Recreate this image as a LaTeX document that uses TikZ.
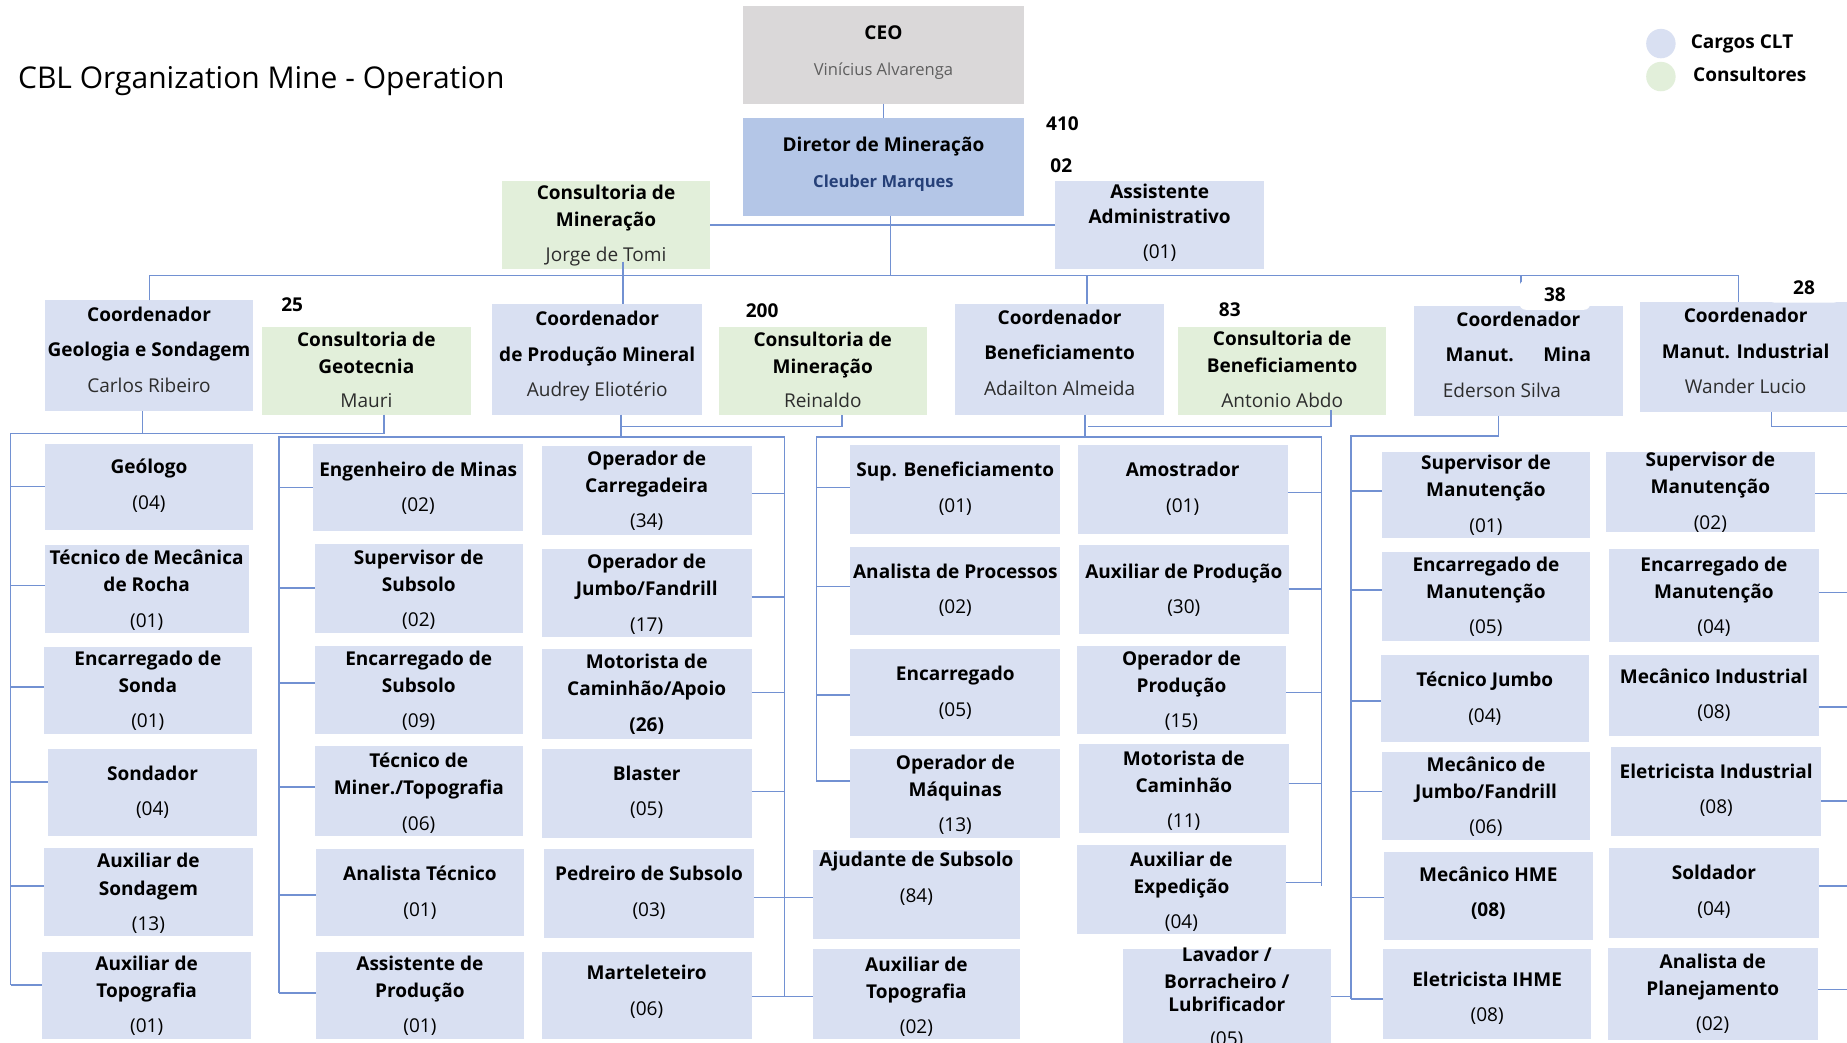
\documentclass[tikz,border=0pt]{standalone}
\usepackage{fontspec}
\setmainfont{Open Sans}
\usetikzlibrary{calc}

\definecolor{cltblue}{RGB}{217,224,242}
\definecolor{consgreen}{RGB}{226,239,218}
\definecolor{ceogray}{RGB}{218,216,217}
\definecolor{dirblue}{RGB}{180,198,231}
\definecolor{linkblue}{RGB}{114,145,210}
\definecolor{subgray}{RGB}{95,95,95}
\definecolor{namegray}{RGB}{45,45,45}
\definecolor{dirname}{RGB}{38,64,120}

\newcommand\bt[1]{\textbf{#1}}
\newcommand\nm[1]{{\color{namegray}#1}}
% \orgbox{style}{name}{x1}{y1}{x2}{y2}{text offset}{text}
\newcommand\orgbox[8]{%
  \node[#1, minimum width={(#5-(#3))*0.02cm}, minimum height={(#6-(#4))*0.02cm}]
    (#2) at ({(#3+#5)/2},{(#4+#6)/2}) {};
  \node[txt] (#2t) at ([yshift={-(#7+2)*0.02cm}]#2.center) {#8};
}

\begin{document}
\begin{tikzpicture}[x=0.02cm,y=-0.02cm,
  base/.style={draw=none,inner sep=0pt,outer sep=0pt,rectangle},
  clt/.style={base,fill=cltblue},
  cons/.style={base,fill=consgreen},
  ceobox/.style={base,fill=ceogray},
  dirbox/.style={base,fill=dirblue},
  txt/.style={align=center,inner sep=0pt,font=\fontsize{9.2}{13.1}\selectfont,text=black},
  conn/.style={draw=linkblue,line width=0.75pt},
  num/.style={font=\fontsize{9.2}{11}\selectfont\bfseries,inner sep=1pt},
  tag/.style={num,fill=white,rounded corners=3pt,minimum width=1.2cm,minimum height=0.5cm},
]
\useasboundingbox (0,0) rectangle (1568,885);
\clip (0,0) rectangle (1568,885);
\fill[white] (0,0) rectangle (1568,885);

% title and legend
\node[anchor=west,inner sep=0pt,font=\fontsize{14.5}{17}\selectfont] (title) at (15,68.5) {CBL Organization Mine - Operation};
\node[circle,fill=cltblue,minimum size=0.5cm,inner sep=0pt] (legclt) at (1410,37) {};
\node[circle,fill=consgreen,minimum size=0.5cm,inner sep=0pt] (legcons) at (1410,65) {};
\node[txt,anchor=west] (legcltt) at (1435,37) {\bt{Cargos CLT}};
\node[txt,anchor=west] (legconst) at (1437,63) {\bt{Consultores}};

% top of the hierarchy
\orgbox{ceobox}{ceo}{631}{5}{869}{88}{-4}{\bt{CEO}\\[4pt]{\fontsize{8}{13.1}\selectfont\color{subgray}Vinícius Alvarenga}}
\orgbox{dirbox}{dir}{631}{100}{869}{183}{-4}{\bt{Diretor de Mineração}\\[4pt]{\fontsize{8}{13.1}\selectfont\bfseries\color{dirname}Cleuber Marques}}
\orgbox{cons}{jorge}{426}{154}{603}{228}{-1.5}{\bt{Consultoria de}\\\bt{Mineração}\\[4pt]\nm{Jorge de Tomi}}
\orgbox{clt}{asst}{896}{154}{1073}{228}{-4}{\bt{Assistente}\\[-1pt]\bt{Administrativo}\\[4pt](01)}

% coordinators and consultants
\orgbox{clt}{geoc}{38}{255}{215}{349}{-7}{\bt{Coordenador}\\[4pt]\bt{Geologia e Sondagem}\\[4pt]\nm{Carlos Ribeiro}}
\orgbox{cons}{geot}{222}{278}{400}{352}{-3}{\bt{Consultoria de}\\\bt{Geotecnia}\\[3pt]\nm{Mauri}}
\orgbox{clt}{prodc}{418}{258}{596}{352}{-4.5}{\bt{Coordenador}\\[4pt]\bt{de Produção Mineral}\\[4pt]\nm{Audrey Eliotério}}
\orgbox{cons}{rein}{610}{278}{787}{352}{-3}{\bt{Consultoria de}\\\bt{Mineração}\\[3pt]\nm{Reinaldo}}
\orgbox{clt}{benc}{811}{258}{988}{352}{-7.5}{\bt{Coordenador}\\[4pt]\bt{Beneficiamento}\\[4pt]\nm{Adailton Almeida}}
\orgbox{cons}{anto}{1000}{278}{1177}{352}{-3.5}{\bt{Consultoria de}\\\bt{Beneficiamento}\\[4pt]\nm{Antonio Abdo}}
\orgbox{clt}{minc}{1200}{260}{1378}{353}{-7.5}{\bt{Coordenador}\\[4pt]\bt{Manut.\hspace{0.5cm}Mina}\\[4pt]\nm{Ederson Silva}\rule{0.56cm}{0pt}}
\orgbox{clt}{indc}{1392}{256}{1572}{350}{-7}{\bt{Coordenador}\\[4pt]\bt{Manut. Industrial}\\[4pt]\nm{Wander Lucio}}

% geology and drilling
\orgbox{clt}{geo1}{38}{377}{215}{450}{-3}{\bt{Geólogo}\\[4pt](04)}
\orgbox{clt}{geo2}{38}{463}{211}{537}{-1}{\bt{Técnico de Mecânica}\\\bt{de Rocha}\\[4pt](01)}
\orgbox{clt}{geo3}{37}{549}{214}{623}{-1.5}{\bt{Encarregado de}\\\bt{Sonda}\\[4pt](01)}
\orgbox{clt}{geo4}{41}{636}{218}{710}{-2.5}{\bt{Sondador}\\[4pt](04)}
\orgbox{clt}{geo5}{37}{720}{215}{795}{-1}{\bt{Auxiliar de}\\\bt{Sondagem}\\[4pt](13)}
\orgbox{clt}{geo6}{36}{808}{213}{882}{-1.5}{\bt{Auxiliar de}\\\bt{Topografia}\\[4pt](01)}

% mineral production
\orgbox{clt}{p1}{266}{377}{444}{451}{-1.5}{\bt{Engenheiro de Minas}\\[4pt](02)}
\orgbox{clt}{p2}{267}{462}{444}{537}{-1}{\bt{Supervisor de}\\\bt{Subsolo}\\[4pt](02)}
\orgbox{clt}{p3}{267}{548}{444}{623}{-1}{\bt{Encarregado de}\\\bt{Subsolo}\\[4pt](09)}
\orgbox{clt}{p4}{267}{633}{444}{710}{0}{\bt{Técnico de}\\\bt{Miner./Topografia}\\[4pt](06)}
\orgbox{clt}{p5}{268}{721}{445}{795}{-2}{\bt{Analista Técnico}\\[4pt](01)}
\orgbox{clt}{p6}{268}{808}{445}{882}{-1.5}{\bt{Assistente de}\\\bt{Produção}\\[4pt](01)}
\orgbox{clt}{q1}{460}{379}{638}{454}{-2}{\bt{Operador de}\\\bt{Carregadeira}\\[4pt](34)}
\orgbox{clt}{q2}{460}{466}{638}{541}{-1}{\bt{Operador de}\\\bt{Jumbo/Fandrill}\\[4pt](17)}
\orgbox{clt}{q3}{460}{551}{638}{627}{-1.5}{\bt{Motorista de}\\\bt{Caminhão/Apoio}\\[4pt]\bt{(26)}}
\orgbox{clt}{q4}{460}{636}{638}{711}{-3}{\bt{Blaster}\\[4pt](05)}
\orgbox{clt}{q5}{462}{721}{640}{796}{-2.5}{\bt{Pedreiro de Subsolo}\\[4pt](03)}
\orgbox{clt}{q6}{460}{808}{638}{882}{-5}{\bt{Marteleteiro}\\[4pt](06)}

% processing plant
\orgbox{clt}{b1}{722}{378}{900}{453}{-2.5}{\bt{Sup. Beneficiamento}\\[4pt](01)}
\orgbox{clt}{b2}{722}{464}{900}{539}{-2.5}{\bt{Analista de Processos}\\[4pt](02)}
\orgbox{clt}{b3}{722}{551}{900}{625}{-2}{\bt{Encarregado}\\[4pt](05)}
\orgbox{clt}{b4}{722}{636}{900}{711}{-1}{\bt{Operador de}\\\bt{Máquinas}\\[4pt](13)}
\orgbox{clt}{b5}{690}{722}{866}{797}{-15.5}{\bt{Ajudante de Subsolo}\\[4pt](84)}
\orgbox{clt}{b6}{690}{806}{866}{882}{0}{\bt{Auxiliar de}\\\bt{Topografia}\\[4pt](02)}
\orgbox{clt}{c1}{915}{378}{1093}{453}{-2.5}{\bt{Amostrador}\\[4pt](01)}
\orgbox{clt}{c2}{916}{463}{1094}{538}{-1.5}{\bt{Auxiliar de Produção}\\[4pt](30)}
\orgbox{clt}{c3}{914}{548}{1092}{623}{-1}{\bt{Operador de}\\\bt{Produção}\\[4pt](15)}
\orgbox{clt}{c4}{916}{632}{1094}{707}{0}{\bt{Motorista de}\\\bt{Caminhão}\\[4pt](11)}
\orgbox{clt}{c5}{914}{717}{1092}{793}{0}{\bt{Auxiliar de}\\\bt{Expedição}\\[4pt](04)}
\orgbox{clt}{c6}{953}{806}{1130}{895}{-5.5}{\bt{Lavador /}\\\bt{Borracheiro /}\\[-2pt]\bt{Lubrificador}\\[3pt](05)}

% mine maintenance
\orgbox{clt}{m1}{1173}{384}{1350}{457}{-2}{\bt{Supervisor de}\\\bt{Manutenção}\\[4pt](01)}
\orgbox{clt}{m2}{1173}{469}{1350}{544}{-2}{\bt{Encarregado de}\\\bt{Manutenção}\\[4pt](05)}
\orgbox{clt}{m3}{1172}{556}{1349}{630}{-2}{\bt{Técnico Jumbo}\\[4pt](04)}
\orgbox{clt}{m4}{1173}{638}{1350}{713}{-1}{\bt{Mecânico de}\\\bt{Jumbo/Fandrill}\\[4pt](06)}
\orgbox{clt}{m5}{1175}{723}{1352}{798}{-4}{\bt{Mecânico HME}\\[4pt]\bt{(08)}}
\orgbox{clt}{m6}{1174}{806}{1351}{882}{1.5}{\bt{Eletricista IHME}\\[4pt](08)}

% industrial maintenance
\orgbox{clt}{n1}{1363}{384}{1541}{452}{-2}{\bt{Supervisor de}\\\bt{Manutenção}\\[4pt](02)}
\orgbox{clt}{n2}{1366}{466}{1544}{545}{-1}{\bt{Encarregado de}\\\bt{Manutenção}\\[4pt](04)}
\orgbox{clt}{n3}{1366}{556}{1544}{625}{-2.5}{\bt{Mecânico Industrial}\\[4pt](08)}
\orgbox{clt}{n4}{1368}{634}{1546}{710}{-3}{\bt{Eletricista Industrial}\\[4pt](08)}
\orgbox{clt}{n5}{1366}{720}{1544}{796}{-3}{\bt{Soldador}\\[4pt](04)}
\orgbox{clt}{n6}{1365}{805}{1543}{883}{-2.5}{\bt{Analista de}\\\bt{Planejamento}\\[4pt](02)}

% ---- connectors ----
\draw[conn] (ceo.south) -- (dir.north);
\coordinate (busL) at (127,234);
\coordinate (busR) at (1476,234);
\coordinate (dirdrop) at (756,234);
\draw[conn] (dir.south -| dirdrop) -- (dirdrop);
\draw[conn] (jorge.east) -- (asst.west);
\draw[conn] (geoc.north -| busL) -- (busL) -- (busR) -- (indc.north -| busR);
\coordinate (proddrop) at (529,234);
\draw[conn] ($(jorge.south -| proddrop)+(0,-6)$) -- (prodc.north -| proddrop);
\coordinate (bendrop) at (923,234);
\draw[conn] (bendrop) -- (benc.north -| bendrop);
\coordinate (minadrop) at (1291,234);
\draw[conn] (minadrop) -- (minc.north -| minadrop);

% geology branch
\coordinate (gsp) at (9,368);
\coordinate (gdrop) at (121,368);
\coordinate (gtdrop) at (326,368);
\draw[conn] (geoc.south -| gdrop) -- (gdrop);
\draw[conn] (geot.south -| gtdrop) -- (gtdrop) -- (gsp) -- (gsp |- 0,836);
\foreach \n/\y in {geo1/413,geo2/497,geo3/583,geo4/664,geo5/752,geo6/836}
  \draw[conn] (gsp |- 0,\y) -- (\n.west |- 0,\y);

% production branch
\coordinate (pdrop) at (527,371);
\coordinate (pmid) at (527,362);
\coordinate (rdrop) at (715,362);
\draw[conn] (prodc.south -| pdrop) -- (pdrop);
\draw[conn] (pmid) -- (rdrop) -- (rein.south -| rdrop);
\coordinate (pspL) at (237,371);
\coordinate (pspR) at (666,371);
\draw[conn] (pspL |- 0,843) -- (pspL) -- (pspR) -- (pspR |- 0,846);
\foreach \n/\y in {p1/414,p2/499,p3/580,p4/668,p5/760,p6/843}
  \draw[conn] (pspL |- 0,\y) -- (\n.west |- 0,\y);
\foreach \n/\y in {q1/419,q2/507,q3/588,q4/672}
  \draw[conn] (\n.east |- 0,\y) -- (pspR |- 0,\y);
\draw[conn] (q5.east |- 0,762) -- (b5.west |- 0,762);
\draw[conn] (q6.east |- 0,846) -- (b6.west |- 0,846);

% processing branch
\coordinate (bdrop) at (921,371);
\coordinate (bmid) at (924,362);
\coordinate (adrop) at (1130,362);
\draw[conn] (benc.south -| bdrop) -- (bdrop);
\draw[conn] (bmid) -- (adrop) -- ($(anto.south -| adrop)+(0,-4)$);
\coordinate (bspL) at (693,371);
\coordinate (bspR) at (1122,371);
\draw[conn] (bspL |- 0,663) -- (bspL) -- (bspR) -- (bspR |- 0,752);
\foreach \n/\y in {b1/414,b2/498,b3/590,b4/663}
  \draw[conn] (bspL |- 0,\y) -- (\n.west |- 0,\y);
\foreach \n/\y in {c1/418,c2/500,c3/588,c4/665,c5/749}
  \draw[conn] (\n.east |- 0,\y) -- (bspR |- 0,\y);

% mine maintenance branch
\coordinate (mdrop) at (1272,370);
\coordinate (msp) at (1147,370);
\draw[conn] (minc.south -| mdrop) -- (mdrop) -- (msp) -- (msp |- 0,848);
\foreach \n/\y in {m1/417,m2/501,m3/595,m4/672,m5/762,m6/848}
  \draw[conn] (msp |- 0,\y) -- (\n.west |- 0,\y);
\draw[conn] (c6.east |- 0,846) -- (msp |- 0,846);

% industrial maintenance branch
\coordinate (idrop) at (1504,362);
\coordinate (iend) at (1572,362);
\draw[conn] (indc.south -| idrop) -- (idrop) -- (iend);
\foreach \n/\y in {n1/419,n2/503,n3/600,n4/680,n5/752,n6/840}
  \draw[conn] (\n.east |- 0,\y) -- (iend |- 0,\y);

% head counts
\node[num] (h410) at (902,105) {410};
\node[num] (h02) at (901,141) {02};
\node[num] (h25) at (248,259) {25};
\node[num] (h200) at (647,264) {200};
\node[num] (h83) at (1044,263) {83};
\node[tag] (h38) at (1320,250.5) {38};
\node[tag] (h28) at (1531.5,244.5) {28};
\end{tikzpicture}
\end{document}
